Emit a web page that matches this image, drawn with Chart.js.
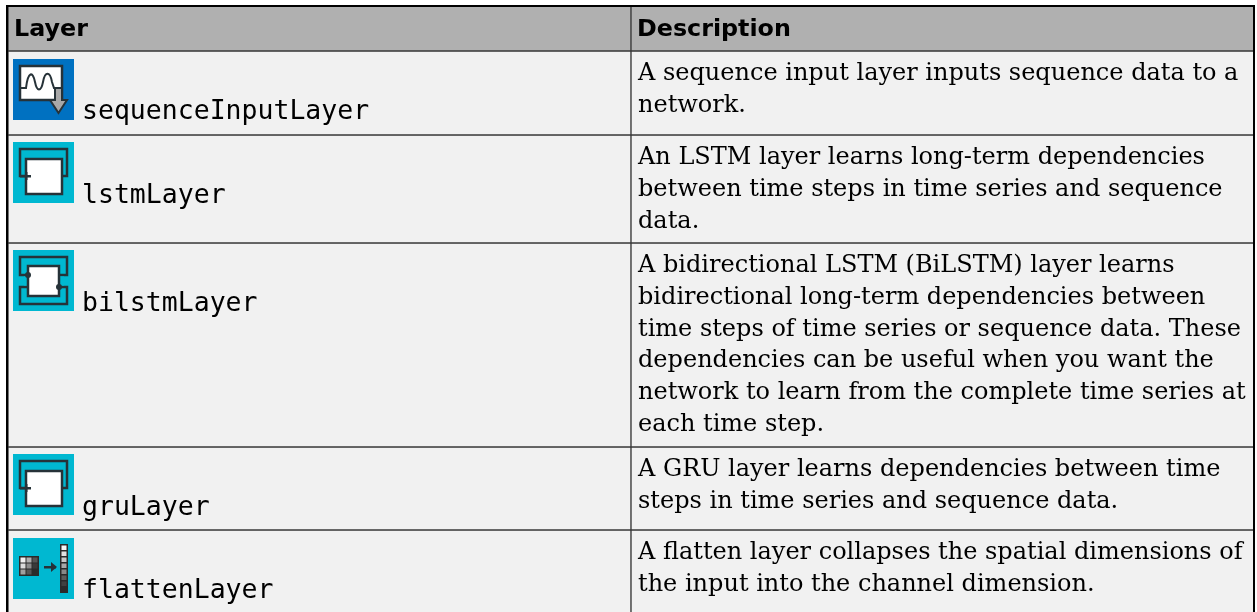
<!DOCTYPE html>
<html>
<head>
<meta charset="utf-8">
<title>Layer table</title>
<script src="https://cdn.jsdelivr.net/npm/chart.js@4"></script>
<style>
  html, body { margin: 0; padding: 0; background: #fff; overflow: hidden; }
  #wrap { width: 1257px; height: 612px; }
</style>
</head>
<body>
<div id="wrap"><canvas id="layerTable" width="1257" height="612"></canvas></div>
<script>
// columns of the table
const columns = ['Layer', 'Description'];

// row heights, header first (last row runs off the bottom)
const rowHeights = [45, 84, 108, 204, 83, 82];

const layerNames = ['sequenceInputLayer', 'lstmLayer', 'bilstmLayer', 'gruLayer', 'flattenLayer'];
const iconKinds = ['sequence', 'lstm', 'bilstm', 'gru', 'flatten'];

const descriptions = [
    ['A sequence input layer inputs sequence data to a', 'network.'],
    ['An LSTM layer learns long-term dependencies', 'between time steps in time series and sequence', 'data.'],
    ['A bidirectional LSTM (BiLSTM) layer learns', 'bidirectional long-term dependencies between', 'time steps of time series or sequence data. These', 'dependencies can be useful when you want the', 'network to learn from the complete time series at', 'each time step.'],
    ['A GRU layer learns dependencies between time', 'steps in time series and sequence data.'],
    ['A flatten layer collapses the spatial dimensions of', 'the input into the channel dimension.']
];

const headerGrey = '#b0b0b0';
const cellGrey = '#f1f1f1';
const lineDark = '#383838';

// small icons, sizes relative to a 61px square
function drawIcon(ctx, kind, x, y) {
    const dark = '#263238';
    ctx.save();
    ctx.translate(x, y);
    ctx.fillStyle = kind === 'sequence' ? '#0071c1' : '#00b8d1';
    ctx.fillRect(0, 0, 61, 61);
    ctx.filter = 'blur(0.5px)';
    ctx.strokeStyle = dark;
    ctx.lineWidth = 2.5;

    if (kind === 'sequence') {
        ctx.fillStyle = '#fff';
        ctx.fillRect(7, 7, 42, 34);
        ctx.strokeRect(7, 7, 42, 34);
        ctx.beginPath();
        ctx.moveTo(8, 29);
        ctx.lineTo(13, 29);
        ctx.bezierCurveTo(15, 12, 20, 12, 22, 23);
        ctx.bezierCurveTo(24, 33, 28, 33, 30, 23);
        ctx.bezierCurveTo(32, 12, 37, 12, 39, 23);
        ctx.lineTo(41, 29);
        ctx.lineTo(48, 29);
        ctx.lineWidth = 2;
        ctx.stroke();
        ctx.fillStyle = '#a8a8a8';
        ctx.beginPath();
        ctx.moveTo(42, 29); ctx.lineTo(49, 29); ctx.lineTo(49, 41); ctx.lineTo(54, 41);
        ctx.lineTo(45.5, 54); ctx.lineTo(37, 41); ctx.lineTo(42, 41);
        ctx.closePath();
        ctx.fill();
        ctx.stroke();
    } else if (kind === 'lstm' || kind === 'gru') {
        ctx.strokeRect(7, 7, 47, 27);
        ctx.fillStyle = '#fff';
        ctx.fillRect(13, 17, 36, 35);
        ctx.strokeRect(13, 17, 36, 35);
        ctx.fillStyle = dark;
        ctx.fillRect(7, 33, 11, 2.5);
        ctx.fillRect(12, 30, 2.5, 8);
    } else if (kind === 'bilstm') {
        ctx.strokeRect(7, 7, 47, 18);
        ctx.strokeRect(7, 37, 47, 17);
        ctx.fillStyle = '#00b8d1';
        ctx.fillRect(11, 26.5, 40, 9);
        ctx.fillStyle = '#fff';
        ctx.fillRect(15, 16, 31, 30);
        ctx.strokeRect(15, 16, 31, 30);
        ctx.fillStyle = dark;
        ctx.beginPath(); ctx.arc(15, 25, 3, 0, Math.PI * 2); ctx.fill();
        ctx.beginPath(); ctx.arc(46, 37, 3, 0, Math.PI * 2); ctx.fill();
    } else {
        const shades = ['#f0f0f0', '#b0b0b0', '#555', '#dcdcdc', '#8c8c8c', '#3a3a3a', '#a0a0a0', '#555', '#2a2a2a'];
        ctx.fillStyle = '#2a2a2a';
        ctx.fillRect(6, 18, 20, 20);
        shades.forEach((s, i) => {
            ctx.fillStyle = s;
            ctx.fillRect(7.5 + (i % 3) * 6, 19.5 + Math.floor(i / 3) * 6, 5, 5);
        });
        ctx.fillStyle = dark;
        ctx.fillRect(31, 28, 12, 2.5);
        ctx.beginPath();
        ctx.moveTo(44, 29); ctx.lineTo(38, 24); ctx.lineTo(38, 34); ctx.closePath();
        ctx.fill();
        ctx.fillStyle = '#2a2a2a';
        ctx.fillRect(47, 6, 8, 49);
        ['#f6f6f6', '#e0e0e0', '#c8c8c8', '#a8a8a8', '#888', '#5c5c5c', '#404040', '#2a2a2a'].forEach((s, i) => {
            ctx.fillStyle = s;
            ctx.fillRect(48.5, 7.5 + i * 6, 5, 4.5);
        });
    }
    ctx.restore();
}

// writes the header, names, descriptions and icons into the bars of each row
const cellText = {
    id: 'cellText',
    afterDatasetsDraw(chart) {
        const ctx = chart.ctx;
        const yScale = chart.scales.y;
        ctx.save();
        ctx.textBaseline = 'alphabetic';
        ctx.textAlign = 'left';
        ctx.fillStyle = '#000';

        const headerBars = chart.getDatasetMeta(0).data;
        ctx.font = 'bold 23.8px "DejaVu Sans"';
        columns.forEach((name, c) => {
            const left = headerBars[c].x - headerBars[c].width / 2;
            ctx.fillText(name, left + 6, yScale.getPixelForValue(0) + 30);
        });

        layerNames.forEach((name, r) => {
            const bars = chart.getDatasetMeta(r + 1).data;
            const top = yScale.getPixelForValue(rowHeights.slice(0, r + 1).reduce((a, b) => a + b, 0));
            const leftCell = bars[0].x - bars[0].width / 2;
            const rightCell = bars[1].x - bars[1].width / 2;

            drawIcon(ctx, iconKinds[r], leftCell + 5, top + (r === 0 || r === 4 ? 8 : 7));
            ctx.fillStyle = '#000';
            ctx.font = '26.5px "DejaVu Sans Mono"';
            ctx.fillText(name, leftCell + 74, top + 68);

            ctx.font = '24px "DejaVu Serif"';
            descriptions[r].forEach((line, i) => {
                ctx.fillText(line, rightCell + 7, top + 29 + i * 31.8);
            });
        });

        // outer frame, open at the bottom where the table is cut off
        const area = chart.chartArea;
        ctx.strokeStyle = '#000';
        ctx.lineWidth = 2;
        ctx.beginPath();
        ctx.moveTo(area.left - 1, area.bottom);
        ctx.lineTo(area.left - 1, area.top);
        ctx.lineTo(area.right, area.top);
        ctx.lineTo(area.right, area.bottom);
        ctx.stroke();
        ctx.restore();
    }
};

// each table row is a stacked dataset across the two column categories
const rowDatasets = rowHeights.map((height, r) => ({
    label: r === 0 ? 'Header' : layerNames[r - 1],
    data: columns.map(() => height),
    backgroundColor: r === 0 ? headerGrey : cellGrey,
    borderColor: lineDark,
    borderWidth: { top: 1, bottom: r === rowHeights.length - 1 ? 0 : 1, left: 1, right: 1 },
    borderSkipped: false,
    categoryPercentage: 1,
    barPercentage: 1
}));

const layerTable = new Chart(document.getElementById('layerTable').getContext('2d'), {
    type: 'bar',
    data: { labels: columns, datasets: rowDatasets },
    options: {
        responsive: false,
        animation: false,
        layout: { padding: { left: 8, right: 3, top: 6, bottom: 0 } },
        plugins: { legend: { display: false }, tooltip: { enabled: false } },
        scales: {
            x: { stacked: true, display: false },
            y: { stacked: true, display: false, reverse: true, min: 0, max: rowHeights.reduce((a, b) => a + b, 0) }
        }
    },
    plugins: [cellText]
});
</script>
</body>
</html>
